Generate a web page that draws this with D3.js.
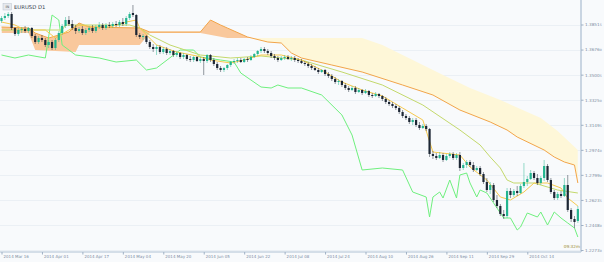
<!DOCTYPE html>
<html>
<head>
<meta charset="utf-8">
<script src="https://cdn.jsdelivr.net/npm/d3@7"></script>
<style>
html, body { margin: 0; padding: 0; background: #f8fafc; }
svg { display: block; font-family: "DejaVu Sans", sans-serif; }
</style>
</head>
<body>
<svg id="chart" width="604" height="262"></svg>
<script>
// time axis labels and the bar index they sit on
var dateLabels = ["2014 Mar 16", "2014 Apr 01", "2014 Apr 17", "2014 May 04", "2014 May 20", "2014 Jun 05",
    "2014 Jun 22", "2014 Jul 08", "2014 Jul 24", "2014 Aug 10", "2014 Aug 26", "2014 Sep 11", "2014 Sep 29", "2014 Oct 14"];
var dateBars = [0, 12, 24, 36, 48, 60, 72, 84, 96, 108, 120, 132, 144, 156];

// price axis
var priceTicks = [1.38515, 1.36760, 1.35005, 1.33250, 1.31495, 1.29740, 1.27990, 1.26235, 1.24480, 1.22730];

// daily candles [open, high, low, close]
var candles = [
[1.3876,1.3911,1.3862,1.3897],[1.3897,1.3932,1.3883,1.3911],[1.3911,1.3939,1.3897,1.3925],[1.3925,1.3939,1.3813,1.3827],
[1.3827,1.3834,1.3771,1.3785],[1.3785,1.3827,1.3771,1.3813],[1.3813,1.3834,1.3792,1.3820],[1.3820,1.3841,1.3792,1.3806],
[1.3806,1.3834,1.3792,1.3827],[1.3827,1.3834,1.3757,1.3771],[1.3771,1.3785,1.3715,1.3729],[1.3729,1.3771,1.3715,1.3757],
[1.3757,1.3778,1.3729,1.3743],[1.3743,1.3757,1.3694,1.3708],[1.3708,1.3743,1.3687,1.3729],[1.3729,1.3743,1.3673,1.3687],
[1.3687,1.3757,1.3673,1.3743],[1.3743,1.3806,1.3729,1.3792],[1.3792,1.3855,1.3778,1.3841],[1.3841,1.3904,1.3827,1.3883],
[1.3883,1.3911,1.3841,1.3855],[1.3855,1.3883,1.3813,1.3827],[1.3827,1.3848,1.3785,1.3806],[1.3806,1.3834,1.3792,1.3820],
[1.3820,1.3841,1.3778,1.3792],[1.3792,1.3827,1.3778,1.3813],[1.3813,1.3841,1.3799,1.3827],[1.3827,1.3848,1.3792,1.3806],
[1.3806,1.3848,1.3792,1.3834],[1.3834,1.3869,1.3820,1.3848],[1.3848,1.3862,1.3813,1.3827],[1.3827,1.3862,1.3813,1.3848],
[1.3848,1.3869,1.3827,1.3841],[1.3841,1.3869,1.3827,1.3855],[1.3855,1.3876,1.3834,1.3848],[1.3848,1.3883,1.3834,1.3869],
[1.3869,1.3897,1.3841,1.3855],[1.3855,1.3911,1.3841,1.3897],[1.3897,1.3939,1.3883,1.3925],[1.3932,1.3988,1.3904,1.3918],
[1.3918,1.3925,1.3764,1.3778],[1.3778,1.3792,1.3750,1.3764],[1.3764,1.3785,1.3743,1.3771],[1.3771,1.3778,1.3715,1.3729],
[1.3729,1.3743,1.3680,1.3694],[1.3694,1.3715,1.3659,1.3680],[1.3680,1.3708,1.3638,1.3694],[1.3694,1.3708,1.3645,1.3659],
[1.3659,1.3694,1.3645,1.3680],[1.3680,1.3694,1.3638,1.3652],[1.3652,1.3680,1.3638,1.3666],[1.3666,1.3673,1.3624,1.3638],
[1.3638,1.3666,1.3624,1.3652],[1.3652,1.3659,1.3610,1.3624],[1.3624,1.3652,1.3610,1.3638],[1.3638,1.3645,1.3596,1.3610],
[1.3610,1.3631,1.3589,1.3603],[1.3603,1.3631,1.3589,1.3624],[1.3624,1.3631,1.3589,1.3596],[1.3596,1.3624,1.3582,1.3610],
[1.3610,1.3624,1.3498,1.3596],[1.3596,1.3645,1.3582,1.3638],[1.3638,1.3645,1.3589,1.3603],[1.3603,1.3617,1.3561,1.3575],
[1.3575,1.3589,1.3533,1.3547],[1.3547,1.3561,1.3519,1.3533],[1.3533,1.3554,1.3519,1.3547],[1.3547,1.3575,1.3533,1.3568],
[1.3568,1.3596,1.3554,1.3589],[1.3589,1.3610,1.3575,1.3596],[1.3596,1.3617,1.3582,1.3603],[1.3603,1.3617,1.3582,1.3589],
[1.3589,1.3617,1.3582,1.3610],[1.3610,1.3624,1.3589,1.3603],[1.3603,1.3638,1.3596,1.3624],[1.3624,1.3652,1.3617,1.3645],
[1.3645,1.3673,1.3631,1.3666],[1.3666,1.3694,1.3652,1.3680],[1.3680,1.3694,1.3652,1.3666],[1.3666,1.3680,1.3638,1.3652],
[1.3652,1.3666,1.3617,1.3631],[1.3631,1.3645,1.3603,1.3617],[1.3617,1.3631,1.3589,1.3603],[1.3603,1.3631,1.3596,1.3617],
[1.3617,1.3638,1.3603,1.3624],[1.3624,1.3638,1.3603,1.3610],[1.3610,1.3631,1.3596,1.3617],[1.3617,1.3631,1.3589,1.3603],
[1.3603,1.3617,1.3582,1.3596],[1.3596,1.3610,1.3575,1.3582],[1.3582,1.3596,1.3561,1.3575],[1.3575,1.3589,1.3547,1.3561],
[1.3561,1.3575,1.3533,1.3547],[1.3547,1.3561,1.3526,1.3533],[1.3533,1.3547,1.3505,1.3519],[1.3519,1.3540,1.3512,1.3533],
[1.3533,1.3540,1.3491,1.3505],[1.3505,1.3519,1.3477,1.3491],[1.3491,1.3505,1.3456,1.3470],[1.3470,1.3484,1.3435,1.3449],
[1.3449,1.3470,1.3428,1.3456],[1.3456,1.3463,1.3414,1.3428],[1.3428,1.3442,1.3393,1.3407],[1.3407,1.3421,1.3379,1.3393],
[1.3393,1.3421,1.3386,1.3407],[1.3407,1.3421,1.3365,1.3379],[1.3379,1.3407,1.3372,1.3393],[1.3393,1.3400,1.3358,1.3372],
[1.3372,1.3400,1.3365,1.3386],[1.3386,1.3393,1.3344,1.3358],[1.3358,1.3372,1.3337,1.3351],[1.3351,1.3379,1.3344,1.3365],
[1.3365,1.3372,1.3337,1.3351],[1.3351,1.3358,1.3316,1.3330],[1.3330,1.3344,1.3295,1.3309],[1.3309,1.3323,1.3281,1.3295],
[1.3295,1.3309,1.3267,1.3281],[1.3281,1.3295,1.3253,1.3267],[1.3267,1.3281,1.3225,1.3239],[1.3239,1.3253,1.3197,1.3211],
[1.3211,1.3225,1.3183,1.3197],[1.3197,1.3211,1.3155,1.3169],[1.3169,1.3197,1.3148,1.3183],[1.3183,1.3197,1.3134,1.3148],
[1.3148,1.3169,1.3113,1.3127],[1.3127,1.3155,1.3120,1.3141],[1.3141,1.3155,1.3106,1.3120],[1.3120,1.3127,1.2924,1.2945],
[1.2945,1.2966,1.2910,1.2931],[1.2931,1.2952,1.2903,1.2917],[1.2917,1.2959,1.2910,1.2938],[1.2938,1.2952,1.2889,1.2903],
[1.2903,1.2945,1.2896,1.2931],[1.2931,1.2959,1.2917,1.2945],[1.2945,1.2959,1.2903,1.2917],[1.2917,1.2952,1.2903,1.2938],
[1.2938,1.2959,1.2826,1.2847],[1.2847,1.2882,1.2833,1.2868],[1.2868,1.2903,1.2847,1.2889],[1.2889,1.2903,1.2854,1.2868],
[1.2868,1.2889,1.2819,1.2833],[1.2833,1.2861,1.2826,1.2847],[1.2847,1.2861,1.2791,1.2805],[1.2805,1.2819,1.2735,1.2749],
[1.2749,1.2777,1.2679,1.2693],[1.2693,1.2749,1.2665,1.2728],[1.2728,1.2742,1.2609,1.2623],[1.2623,1.2658,1.2567,1.2581],
[1.2581,1.2595,1.2511,1.2525],[1.2525,1.2553,1.2490,1.2511],[1.2511,1.2707,1.2497,1.2686],[1.2686,1.2707,1.2637,1.2658],
[1.2658,1.2700,1.2644,1.2686],[1.2686,1.2721,1.2651,1.2672],[1.2672,1.2735,1.2665,1.2721],[1.2721,1.2882,1.2707,1.2749],
[1.2749,1.2791,1.2721,1.2770],[1.2770,1.2833,1.2763,1.2812],[1.2812,1.2826,1.2763,1.2777],[1.2777,1.2805,1.2728,1.2742],
[1.2742,1.2791,1.2728,1.2777],[1.2777,1.2903,1.2756,1.2861],[1.2861,1.2875,1.2749,1.2763],[1.2763,1.2777,1.2665,1.2679],
[1.2679,1.2693,1.2623,1.2637],[1.2637,1.2679,1.2623,1.2665],[1.2665,1.2686,1.2637,1.2651],[1.2651,1.2777,1.2644,1.2728],
[1.2728,1.2798,1.2539,1.2553],[1.2553,1.2567,1.2469,1.2490],[1.2490,1.2511,1.2427,1.2469],[1.2476,1.2581,1.2462,1.2560]
];

// ichimoku lines as [bar, price] vertices
var tenkan = [[0,1.3869],[4,1.3848],[7,1.3813],[13,1.3813],[16,1.3757],[20,1.3813],[23,1.3848],[28,1.3834],[32,1.3834],[37,1.3869],
[40,1.3883],[41,1.3827],[46,1.3708],[52,1.3659],[58,1.3631],[62,1.3603],[68,1.3582],[72,1.3603],[77,1.3638],[83,1.3638],[89,1.3603],
[95,1.3533],[101,1.3449],[107,1.3393],[113,1.3351],[119,1.3267],[125,1.3183],[128,1.2959],[136,1.2938],[139,1.2854],[144,1.2763],
[148,1.2644],[151,1.2623],[155,1.2679],[158,1.2742],[162,1.2742],[166,1.2707],[168,1.2637],[171,1.2581]];
var kijun = [[0,1.3813],[18,1.3813],[19,1.3848],[38,1.3848],[41,1.3827],[44,1.3778],[50,1.3708],[59,1.3638],[68,1.3617],[77,1.3631],
[89,1.3603],[101,1.3519],[113,1.3428],[125,1.3288],[136,1.3113],[142,1.3008],[145,1.2924],[148,1.2847],[150,1.2763],
[152,1.2742],[158,1.2742],[165,1.2693],[171,1.2672]];
var chikou = [[0,1.3638],[4,1.3617],[8,1.3638],[13,1.3617],[15,1.3918],[17,1.3883],[18,1.3708],[22,1.3638],[29,1.3617],[34,1.3589],
[40,1.3603],[43,1.3533],[46,1.3547],[53,1.3673],[57,1.3673],[59,1.3624],[65,1.3603],[69,1.3589],[71,1.3512],[74,1.3463],[77,1.3414],
[80,1.3407],[82,1.3428],[85,1.3407],[89,1.3407],[95,1.3358],[101,1.3218],[104,1.3078],[107,1.2833],[113,1.2847],[119,1.2833],
[122,1.2679],[126,1.2644],[127,1.2504],[128,1.2644],[130,1.2679],[131,1.2637],[133,1.2763],[135,1.2637],[136,1.2798],[138,1.2812],
[139,1.2742],[141,1.2644],[142,1.2693],[144,1.2672],[146,1.2602],[149,1.2497],[151,1.2497],[153,1.2413],[154,1.2434],[156,1.2532],
[159,1.2504],[160,1.2539],[162,1.2448],[164,1.2539],[166,1.2497],[168,1.2462],[170,1.2427],[171,1.2364]];
var senkouA = [[0,1.3834],[8,1.3827],[10,1.3792],[14,1.3757],[20,1.3799],[23,1.3862],[26,1.3834],[41,1.3827],[44,1.3799],[59,1.3799],
[62,1.3883],[65,1.3848],[67,1.3827],[73,1.3764],[79,1.3729],[83,1.3722],[86,1.3652],[89,1.3617],[98,1.3568],[107,1.3519],[119,1.3428],
[128,1.3358],[136,1.3253],[145,1.3169],[150,1.3113],[153,1.3064],[161,1.2973],[164,1.2924],[167,1.2889],[170,1.2868],[171,1.2742]];
var senkouB = [[0,1.3792],[8,1.3792],[10,1.3673],[22,1.3659],[23,1.3708],[41,1.3708],[44,1.3792],[59,1.3792],[67,1.3757],[107,1.3757],
[113,1.3708],[122,1.3603],[131,1.3498],[139,1.3407],[148,1.3323],[160,1.3197],[165,1.3106],[171,1.2973]];

(function () {
    "use strict";
    var W = 604, H = 262, plotR = 581, plotB = 252;
    var svg = d3.select("#chart");

    var x = d3.scaleLinear().domain([0, 156]).range([1.5, 527.3]);
    var y = d3.scaleLinear().domain([1.22730, 1.38515]).range([250, 24.5]);

    svg.append("rect").attr("width", W).attr("height", H).attr("fill", "#f8fafc");

    // grid
    svg.append("g").selectAll("line").data(priceTicks).enter().append("line")
        .attr("x1", 0).attr("x2", plotR)
        .attr("y1", function (d) { return Math.round(y(d)) + 0.5; })
        .attr("y2", function (d) { return Math.round(y(d)) + 0.5; })
        .attr("stroke", "#ebf0f5").attr("stroke-width", 1);

    // cloud: clip areas so each band gets its colour
    var defs = svg.append("defs");
    function above(pts) {
        return d3.area().x(function (d) { return x(d[0]); }).y0(0).y1(function (d) { return y(d[1]); })(pts);
    }
    function below(pts) {
        return d3.area().x(function (d) { return x(d[0]); }).y0(plotB).y1(function (d) { return y(d[1]); })(pts);
    }
    defs.append("clipPath").attr("id", "aboveB").append("path").attr("d", above(senkouB));
    defs.append("clipPath").attr("id", "aboveA").append("path").attr("d", above(senkouA));
    svg.append("path").attr("d", below(senkouA)).attr("clip-path", "url(#aboveB)").attr("fill", "#f9c89c");
    svg.append("path").attr("d", below(senkouB)).attr("clip-path", "url(#aboveA)").attr("fill", "#fef7d8");

    var line = d3.line().x(function (d) { return x(d[0]); }).y(function (d) { return y(d[1]); });
    svg.append("path").attr("d", line(senkouA)).attr("fill", "none").attr("stroke", "#f2a54a").attr("stroke-width", 1);
    svg.append("path").attr("d", line(chikou)).attr("fill", "none").attr("stroke", "#6ff07e").attr("stroke-width", 1);
    svg.append("path").attr("d", line(kijun)).attr("fill", "none").attr("stroke", "#c4d96c").attr("stroke-width", 1);
    svg.append("path").attr("d", line(tenkan)).attr("fill", "none").attr("stroke", "#f6c94d").attr("stroke-width", 1);

    // candles
    function col(d) { return d[3] >= d[0] ? "#23b58f" : "#1d2735"; }
    var bar = svg.append("g").selectAll("g").data(candles).enter().append("g");
    bar.append("line")
        .attr("x1", function (d, i) { return x(i); })
        .attr("x2", function (d, i) { return x(i); })
        .attr("y1", function (d) { return y(d[1]); })
        .attr("y2", function (d) { return y(d[2]); })
        .attr("stroke", col).attr("stroke-width", 0.6).attr("stroke-opacity", 0.8);
    bar.append("rect")
        .attr("x", function (d, i) { return x(i) - 1.1; })
        .attr("width", 2.2)
        .attr("y", function (d) { return y(Math.max(d[0], d[3])); })
        .attr("height", function (d) { return Math.max(0.8, Math.abs(y(d[0]) - y(d[3]))); })
        .attr("fill", col);

    // axes
    var xAxis = d3.axisBottom(x).tickValues(dateBars).tickSize(2.5)
        .tickFormat(function (d, i) { return dateLabels[i]; });
    var gx = svg.append("g").attr("transform", "translate(0," + plotB + ")").call(xAxis);
    gx.select(".domain").attr("d", "M0,0H" + plotR).attr("stroke", "#c9d5e2").attr("stroke-width", 1.5);
    gx.selectAll(".tick line").attr("stroke", "#9fb0c4");
    gx.selectAll(".tick text").attr("text-anchor", "start").attr("x", 1.5).attr("y", 3)
        .attr("font-size", 4).attr("fill", "#7d8da3").attr("font-family", "DejaVu Sans");

    var yAxis = d3.axisRight(y).tickValues(priceTicks).tickSize(2.5).tickFormat("");
    var gy = svg.append("g").attr("transform", "translate(" + plotR + ",0)").call(yAxis);
    gy.select(".domain").attr("d", "M0,0V" + plotB).attr("stroke", "#c9d5e2").attr("stroke-width", 2);
    gy.selectAll(".tick line").attr("stroke", "#9fb0c4");
    var lab = gy.selectAll(".tick text").attr("x", 4).attr("font-size", 4.2).attr("fill", "#7d8da3")
        .attr("font-family", "DejaVu Sans");
    lab.append("tspan").text(function (d) { return d.toFixed(5).slice(0, 6); });
    lab.append("tspan").attr("font-size", 3.2).text(function (d) { return d.toFixed(5).slice(6); });

    // header
    svg.append("rect").attr("x", 3).attr("y", 3.5).attr("width", 8.5).attr("height", 6.5)
        .attr("fill", "#e6e9ee").attr("stroke", "#b9c1cc").attr("stroke-width", 0.5);
    svg.append("text").attr("x", 7.25).attr("y", 8.3).attr("text-anchor", "middle").attr("font-size", 3.6)
        .attr("fill", "#555").text("IN");
    svg.append("text").attr("x", 14).attr("y", 9).attr("font-size", 5.3).attr("fill", "#333c4a").text("EURUSD D1");

    svg.append("text").attr("x", 580).attr("y", 247.5).attr("text-anchor", "end").attr("font-size", 4.2)
        .attr("fill", "#9a8a2e").text("09:32m");
}());
</script>
</body>
</html>
